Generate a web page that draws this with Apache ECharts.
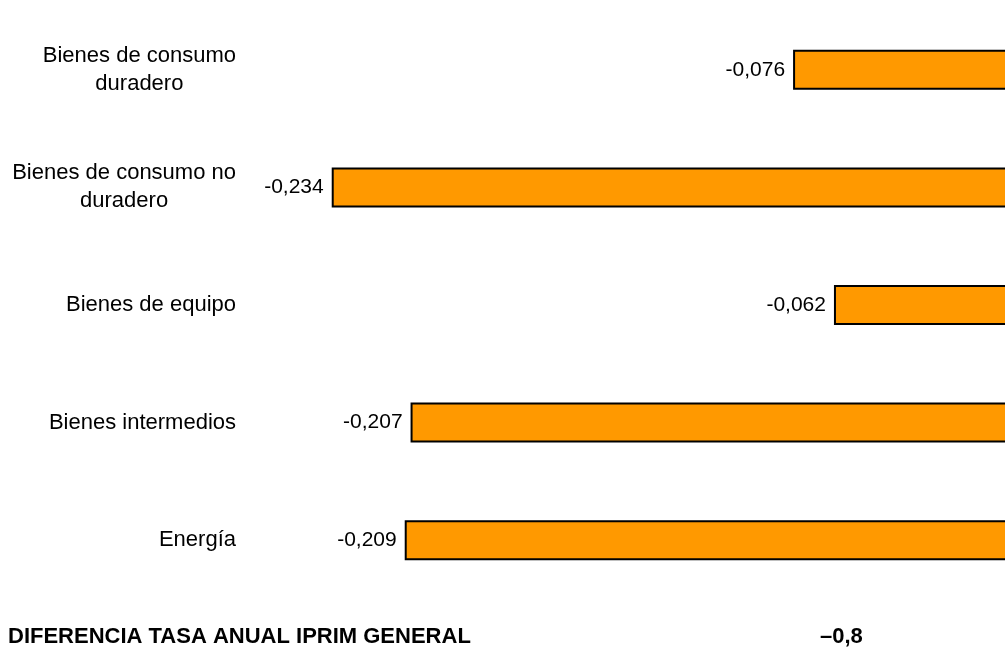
<!DOCTYPE html>
<html>
<head>
<meta charset="utf-8">
<script src="https://cdn.jsdelivr.net/npm/echarts@6/dist/echarts.min.js"></script>
<style>
html,body{margin:0;padding:0;background:#fff;}
#chart{width:1005px;height:648px;}
</style>
</head>
<body>
<div id="chart"></div>
<script>
const categories = ["Bienes de consumo\nduradero", "Bienes de consumo no\nduradero", "Bienes de equipo", "Bienes intermedios", "Energía"];
const values = [-0.076, -0.234, -0.062, -0.207, -0.209];
const totalLabel = "DIFERENCIA TASA ANUAL IPRIM GENERAL";
const totalValue = "–0,8";

const chart = echarts.init(document.getElementById('chart'), null, {renderer: 'canvas'});
const font = '"Liberation Sans", Arial, sans-serif';
chart.setOption({
  animation: false,
  backgroundColor: '#ffffff',
  grid: {left: 285, width: 730, top: 11, height: 588, containLabel: false, outerBoundsMode: 'none'},
  xAxis: {
    type: 'value', min: -0.25, max: 0, show: false
  },
  yAxis: {
    type: 'category', data: categories, inverse: true,
    axisLine: {show: false}, axisTick: {show: false}, splitLine: {show: false},
    axisLabel: {
      margin: 49, align: 'right', fontFamily: font, fontSize: 22, color: '#000',
      lineHeight: 28,
      formatter: function (v) {
        return v.split('\n').map(function (s) { return '{c|' + s + '}'; }).join('\n');
      },
      rich: {c: {align: 'center', fontFamily: font, fontSize: 22, color: '#000', lineHeight: 28}}
    }
  },
  series: [{
    type: 'bar', data: values, barWidth: 40,
    itemStyle: {color: '#FF9900', borderColor: '#000', borderWidth: 2},
    label: {
      show: true, position: 'left', distance: 8, fontFamily: font, fontSize: 21, color: '#000',
      formatter: function (p) { return p.value.toFixed(3).replace('.', ','); }
    }
  }],
  title: [
    {text: totalLabel, left: 8, top: 626, textStyle: {fontFamily: font, fontSize: 22, fontWeight: 'bold', color: '#000'}, padding: 0},
    {text: totalValue, left: 820, top: 626, textStyle: {fontFamily: font, fontSize: 22, fontWeight: 'bold', color: '#000'}, padding: 0}
  ]
});
</script>
</body>
</html>
